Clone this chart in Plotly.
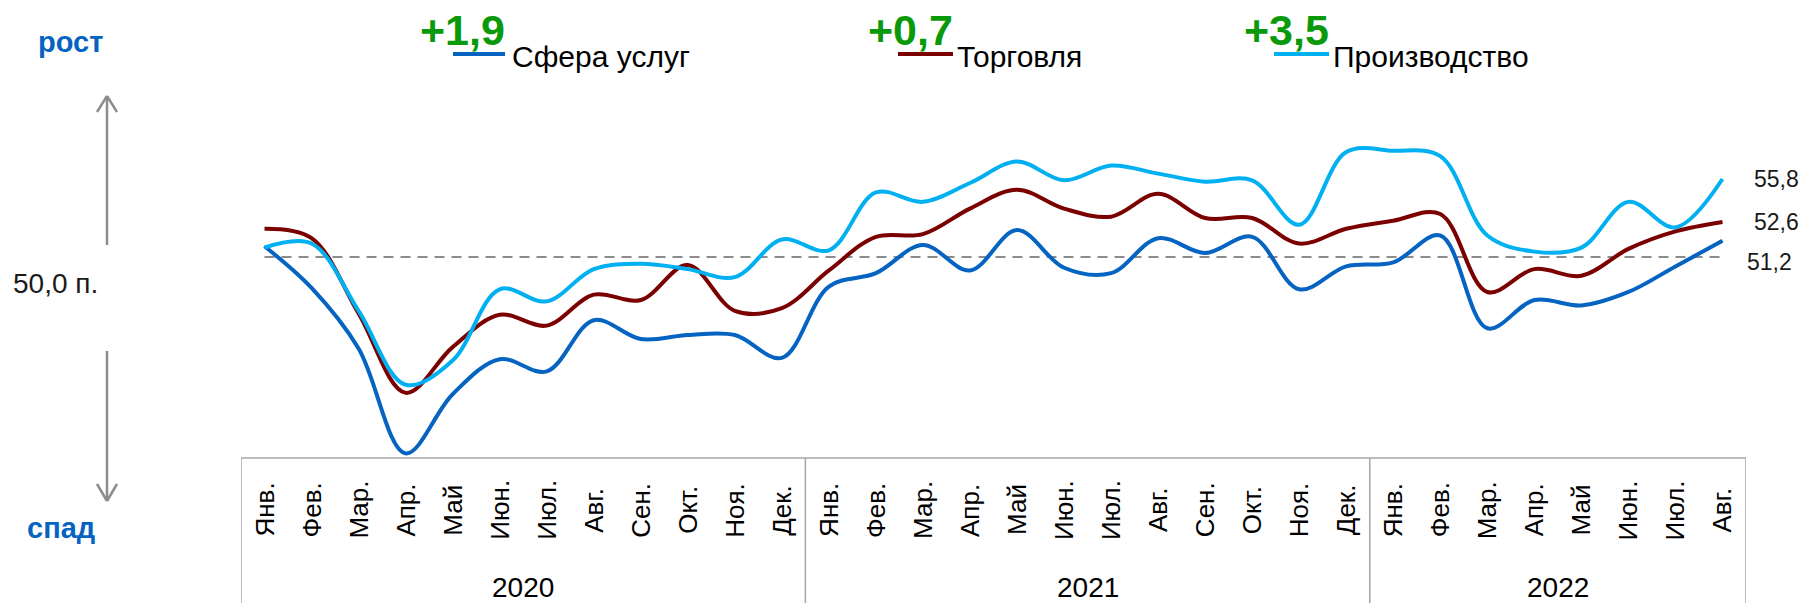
import plotly.graph_objects as go

# ---------------- data ----------------
months = ["Янв.", "Фев.", "Мар.", "Апр.", "Май", "Июн.", "Июл.", "Авг.", "Сен.", "Окт.", "Ноя.", "Дек."]
month_labels = months + months + months[:8]
years = ["2020", "2021", "2022"]
year_lengths = [12, 12, 8]

series_names = ["Сфера услуг", "Торговля", "Производство"]
changes = ["+1,9", "+0,7", "+3,5"]

services = [50.8, 47.7, 43.2, 35.4, 39.8, 42.4, 41.5, 45.3, 43.9, 44.2, 44.2, 42.5,
            47.8, 48.8, 50.9, 49.0, 52.0, 49.2, 48.8, 51.4, 50.3, 51.5, 47.6, 49.3,
            49.6, 51.6, 44.7, 46.8, 46.4, 47.4, 49.3, 51.2]
trade = [52.1, 51.4, 45.8, 39.9, 43.3, 45.7, 44.9, 47.2, 46.8, 49.4, 46.0, 46.2,
         49.0, 51.5, 51.7, 53.6, 55.0, 53.6, 53.0, 54.7, 52.9, 52.9, 51.0, 52.1,
         52.7, 53.2, 47.4, 49.1, 48.6, 50.6, 51.9, 52.6]
production = [50.7, 51.0, 46.0, 40.5, 42.3, 47.6, 46.7, 49.1, 49.5, 49.1, 48.5, 51.3,
              50.5, 54.8, 54.1, 55.5, 57.1, 55.7, 56.8, 56.2, 55.6, 55.7, 52.4, 57.8,
              57.9, 57.5, 51.6, 50.4, 50.7, 54.1, 52.2, 55.8]
threshold = 50.0

colors = ["#0563C1", "#7B0000", "#00B0F0"]
all_series = [services, trade, production]

# ---------------- layout helpers ----------------
FIG_W, FIG_H = 1800, 603
L, R, T, B = 241, 54, 100, 123
W = FIG_W - L - R
H = FIG_H - T - B


def pxx(x):
    return (x - L) / W


def pxy(y):
    return (FIG_H - B - y) / H


Y_PX_50 = 257.0
PX_PER_UNIT = 13.45
y_lo = threshold - ((FIG_H - B) - Y_PX_50) / PX_PER_UNIT
y_hi = threshold + (Y_PX_50 - T) / PX_PER_UNIT

FONT = "Liberation Sans, Arial, sans-serif"
TEXT_COLOR = "#1A1A1A"
GRAY = "#8C8C8C"
BOX = "#A6A6A6"

fig = go.Figure()
n = len(month_labels)
xs = list(range(n))

# threshold dashed line
fig.add_trace(go.Scatter(x=[0, n - 1], y=[threshold, threshold], mode="lines",
                         line=dict(color="#8C8C8C", width=2, dash="10px,7px"),
                         hoverinfo="skip", showlegend=False))

for name, vals, col in zip(series_names, all_series, colors):
    fig.add_trace(go.Scatter(x=xs, y=vals, mode="lines", name=name,
                             line=dict(color=col, width=4, shape="spline", smoothing=1.0),
                             showlegend=False))

shapes = []
annotations = []

# category box
top_box = pxy(458)
bot_box = pxy(610)
shapes.append(dict(type="line", xref="x", yref="paper", x0=-0.5, x1=n - 0.5,
                   y0=top_box, y1=top_box, line=dict(color=BOX, width=1.5)))
bounds = [-0.5]
acc = -0.5
for ln in year_lengths:
    acc += ln
    bounds.append(acc)
for bx in bounds:
    shapes.append(dict(type="line", xref="x", yref="paper", x0=bx, x1=bx,
                       y0=top_box, y1=bot_box, line=dict(color=BOX, width=1.5)))

# month labels
for i, lab in enumerate(month_labels):
    annotations.append(dict(x=i, y=pxy(510), xref="x", yref="paper", text=lab,
                            textangle=-90, xanchor="center", yanchor="middle",
                            showarrow=False, font=dict(family=FONT, size=26, color="#000000")))
# year labels
start = 0
for yr, ln in zip(years, year_lengths):
    annotations.append(dict(x=start + (ln - 1) / 2, y=pxy(587), xref="x", yref="paper",
                            text=yr, xanchor="center", yanchor="middle", showarrow=False,
                            font=dict(family=FONT, size=28, color="#000000")))
    start += ln

# end value labels
last_offsets = [(1745, -21), (1752, 0), (1752, 0)]
for vals, (lx, ysh) in zip(all_series, last_offsets):
    annotations.append(dict(x=pxx(lx), y=vals[-1], xref="paper", yref="y",
                            text=f"{vals[-1]:.1f}".replace(".", ","), xanchor="left",
                            yanchor="middle", yshift=ysh, showarrow=False,
                            font=dict(family=FONT, size=23, color=TEXT_COLOR)))

# legend (manual)
legend_pos = [(453, 505, 510), (898, 953, 955), (1274, 1329, 1331)]
for name, chg, col, (lx0, lx1, tx) in zip(series_names, changes, colors, legend_pos):
    shapes.append(dict(type="line", xref="paper", yref="paper", x0=pxx(lx0), x1=pxx(lx1),
                       y0=pxy(54), y1=pxy(54), line=dict(color=col, width=4)))
    annotations.append(dict(x=pxx(tx), y=pxy(56), xref="paper", yref="paper", text=name,
                            xanchor="left", yanchor="middle", showarrow=False,
                            font=dict(family=FONT, size=30, color="#000000")))
    annotations.append(dict(x=pxx(lx1 + 2), y=pxy(30), xref="paper", yref="paper",
                            text=f"<b>{chg}</b>", xanchor="right", yanchor="middle",
                            showarrow=False,
                            font=dict(family=FONT, size=43, color="#0A990A")))

# left side labels
annotations.append(dict(x=pxx(70), y=pxy(42), xref="paper", yref="paper", text="<b>рост</b>",
                        xanchor="center", yanchor="middle", showarrow=False,
                        font=dict(family=FONT, size=29, color="#0563C1")))
annotations.append(dict(x=pxx(61), y=pxy(528), xref="paper", yref="paper", text="<b>спад</b>",
                        xanchor="center", yanchor="middle", showarrow=False,
                        font=dict(family=FONT, size=29, color="#0563C1")))
annotations.append(dict(x=pxx(11), y=pxy(283), xref="paper", yref="paper", text="50,0 п.",
                        xanchor="left", yanchor="middle", showarrow=False,
                        font=dict(family=FONT, size=28, color=TEXT_COLOR)))

# arrows
ax = 107
for seg in [((ax, 245), (ax, 96)), ((ax - 10, 112), (ax, 96)), ((ax + 10, 112), (ax, 96)),
            ((ax, 351), (ax, 501)), ((ax - 10, 484), (ax, 501)), ((ax + 10, 484), (ax, 501))]:
    (x0, y0), (x1, y1) = seg
    shapes.append(dict(type="line", xref="paper", yref="paper", x0=pxx(x0), y0=pxy(y0),
                       x1=pxx(x1), y1=pxy(y1), line=dict(color=GRAY, width=2.5)))

fig.update_layout(
    width=FIG_W, height=FIG_H,
    margin=dict(l=L, r=R, t=T, b=B, pad=0),
    paper_bgcolor="white", plot_bgcolor="white",
    xaxis=dict(range=[-0.5, n - 0.5], visible=False, fixedrange=True),
    yaxis=dict(range=[y_lo, y_hi], visible=False, fixedrange=True),
    shapes=shapes, annotations=annotations,
    font=dict(family=FONT),
    showlegend=False,
)

fig.write_html(
    "out.html",
    config={"displayModeBar": False},
    post_script="document.body.style.margin='0';document.body.style.overflow='hidden';",
)
